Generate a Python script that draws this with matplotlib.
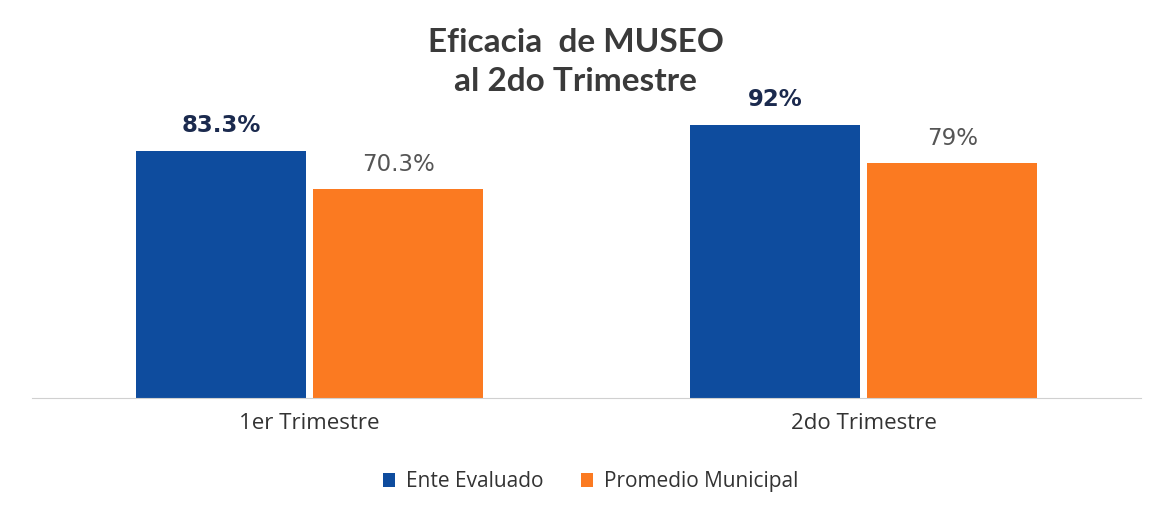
import matplotlib.pyplot as plt
import numpy as np

categories = ["1er Trimestre", "2do Trimestre"]
ente = [83.3, 92]
promedio = [70.3, 79]
ente_labels = ["83.3%", "92%"]
promedio_labels = ["70.3%", "79%"]

blue = "#0e4c9e"
orange = "#fb7a21"

fig = plt.figure(figsize=(11.58, 5.16), dpi=100)
ax = fig.add_axes([0.028, 0.2287, 0.957, 0.5756])

x = np.arange(len(categories))
w = 0.306
off = 0.16
b1 = ax.bar(x - off, ente, w, color=blue, label="Ente Evaluado")
b2 = ax.bar(x + off, promedio, w, color=orange, label="Promedio Municipal")

for rect, lab in zip(b1, ente_labels):
    ax.text(rect.get_x() + rect.get_width() / 2, rect.get_height() + 4.5, lab,
            ha="center", va="bottom", fontsize=16.5, fontweight="bold",
            color="#1b2a4e", family="DejaVu Sans")
for rect, lab in zip(b2, promedio_labels):
    ax.text(rect.get_x() + rect.get_width() / 2, rect.get_height() + 4.5, lab,
            ha="center", va="bottom", fontsize=16.5, color="#555555",
            family="DejaVu Sans")

ax.set_xlim(-0.5, 1.5)
ax.set_ylim(0, 100)
ax.set_yticks([])
ax.set_xticks(x)
ax.set_xticklabels(categories, fontsize=16, color="#333333", family="Open Sans")
ax.tick_params(axis="x", length=0, pad=11)
for s in ["top", "left", "right"]:
    ax.spines[s].set_visible(False)
ax.spines["bottom"].set_color("#d0d0d0")
ax.patch.set_alpha(0)

fig.text(0.497, 0.88, "Eficacia  de MUSEO\nal 2do Trimestre", ha="center", va="center",
         fontsize=24, fontweight="bold", color="#3a3a3a", family="Lato", linespacing=1.4)

fig.legend(loc="center", bbox_to_anchor=(0.51, 0.066), ncol=2, frameon=False,
           prop={"family": "Open Sans", "size": 15}, handlelength=0.6, handleheight=0.7,
           columnspacing=1.8, handletextpad=0.5, labelcolor="#333333")

fig.savefig("out.png", dpi=100, facecolor="white")
